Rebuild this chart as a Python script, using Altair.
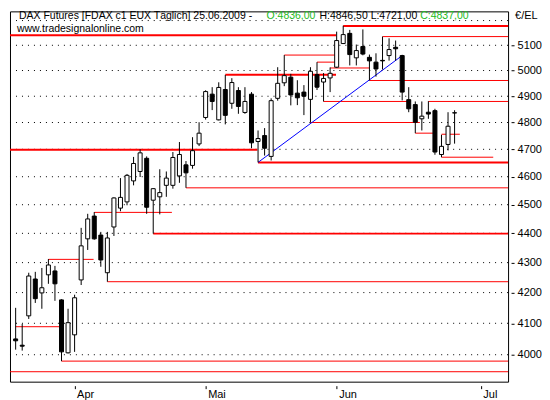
import altair as alt
import pandas as pd

# ---- daily candles (trading-day index 1..68, bar 68 = 25.06.2009) ----
bar_open = [4050, 4030, 4124, 4245, 4199, 4259, 4272, 4176, 4006, 4063,
            4242, 4381, 4460, 4394, 4266, 4422, 4488, 4510, 4585, 4619,
            4667, 4516, 4528, 4569, 4569, 4603, 4643, 4641, 4720, 4819,
            4908, 4810, 4926, 4873, 4922, 4838, 4908, 4729, 4751, 4674,
            4892, 4952, 4974, 4912, 4916, 4888, 4984, 4955, 4971, 5013,
            5107, 5148, 5050, 5095, 5052, 5033, 5040, 5059, 5092, 5059,
            4887, 4868, 4814, 4839, 4845, 4681, 4718, 4836]
bar_high = [4150, 4098, 4266, 4269, 4282, 4312, 4289, 4178, 4147, 4193,
            4419, 4468, 4474, 4405, 4405, 4526, 4595, 4610, 4672, 4700,
            4674, 4558, 4627, 4619, 4690, 4727, 4657, 4745, 4801, 4923,
            4935, 4954, 4983, 4970, 4935, 4935, 4916, 4770, 4779, 4892,
            5013, 5061, 4987, 4962, 4943, 5013, 5033, 4990, 5012, 5155,
            5179, 5162, 5103, 5164, 5063, 5068, 5135, 5128, 5119, 5062,
            4935, 4880, 4880, 4881, 4852, 4754, 4839, 4846.5]
bar_low = [4016, 4013, 4114, 4166, 4147, 4229, 4173, 3980, 4004, 4009,
           4225, 4343, 4378, 4286, 4236, 4391, 4477, 4498, 4569, 4599,
           4468, 4399, 4466, 4528, 4557, 4578, 4560, 4629, 4712, 4811,
           4847, 4808, 4793, 4852, 4833, 4833, 4704, 4652, 4677, 4659,
           4883, 4939, 4865, 4866, 4828, 4800, 4924, 4880, 4916, 5010,
           5105, 5020, 5020, 5060, 4961, 4976, 5004, 5039, 5039, 4884,
           4839, 4760, 4770, 4814, 4680, 4671, 4696, 4721]
bar_close = [4044, 4027, 4255, 4180, 4216, 4292, 4229, 4009, 4102, 4183,
             4357, 4450, 4381, 4309, 4384, 4524, 4526, 4605, 4648, 4687,
             4491, 4557, 4543, 4595, 4670, 4681, 4614, 4695, 4760, 4918,
             4880, 4934, 4827, 4953, 4861, 4880, 4724, 4740, 4704, 4883,
             4950, 4980, 4905, 4894, 4900, 4997, 4935, 4969, 4989, 5119,
             5143, 5063, 5079, 5065, 5038, 5006, 5038, 5083, 5086, 4916,
             4852, 4801, 4824, 4832, 4690, 4711, 4786, 4837]

# ---- horizontal support / resistance lines (start bar, end bar, level, width) ----
line_start = [0, 51, 33, 0, 38, 22,
              57, 42, 47, 49, 55, 48, 46, 62, 66, 64, 66, 27, 13, 6, 15, 1, 8, 0]
line_end = [49.9, 80, 49.9, 37.9, 80, 80,
            80, 49.7, 49.9, 55, 80, 61.25, 62.7, 64.95, 68.8, 80, 73.9, 80, 24.85, 12.9, 80, 7.9, 80, 80]
line_level = [5140, 5178, 4983, 4698, 4652, 4399,
              5135, 5061, 5033, 5010, 4961, 4880, 4800, 4760, 4756, 4880, 4671, 4560, 4473, 4311, 4236, 4089, 3980, 3947]
line_width = [2, 2, 2, 2, 2, 2,
              1, 1, 1, 1, 1, 1, 1, 1, 1, 1, 1, 1, 1, 1, 1, 1, 1, 1]

# ---- blue trend line ----
trend_bars = [38, 60]
trend_levels = [4652, 5059]

grid_levels = [4000, 4100, 4200, 4300, 4400, 4500, 4600, 4700, 4800, 4900, 5000, 5100, 5200]
y_tick_values = [4000, 4100, 4200, 4300, 4400, 4500, 4600, 4700, 4800, 4900, 5000, 5100]
month_ticks = [10, 30, 50, 72]
month_labels = ["Apr", "Mai", "Jun", "Jul"]

FONT = "Liberation Sans"

candles = pd.DataFrame({
    "i": list(range(1, len(bar_open) + 1)),
    "open": bar_open, "high": bar_high, "low": bar_low, "close": bar_close,
})
candles["dir"] = ["up" if c >= o else "down" for o, c in zip(bar_open, bar_close)]

lines_df = pd.DataFrame({"start": line_start, "end": line_end,
                         "level": line_level, "w": line_width})
trend_df = pd.DataFrame({"x0": [trend_bars[0]], "x1": [trend_bars[1]],
                         "y0": [trend_levels[0]], "y1": [trend_levels[1]]})
grid_df = pd.DataFrame({"level": grid_levels})

label_expr = "".join(f"datum.value == {t} ? '{l}' : " for t, l in zip(month_ticks, month_labels)) + "''"

x_scale = alt.Scale(domain=[0.9, 75.4], nice=False, zero=False)
y_scale = alt.Scale(type="log", domain=[3916.3, 5237.7], nice=False, zero=False)

x_axis = alt.Axis(values=month_ticks, labelExpr=label_expr, title=None, grid=False,
                  domain=False, tickSize=3, offset=4, labelAlign="left",
                  labelBaseline="top", labelPadding=0, labelOffset=2,
                  labelFont=FONT, labelFontSize=11, labelColor="#000000",
                  tickColor="#000000")
y_axis = alt.Axis(orient="right", values=y_tick_values, format="d", title=None,
                  grid=False, domain=False, tickSize=3, offset=3, labelPadding=3,
                  labelFont=FONT, labelFontSize=11, labelColor="#000000",
                  tickColor="#000000")


def X(field):
    return alt.X(f"{field}:Q", scale=x_scale, axis=x_axis)


def Y(field):
    return alt.Y(f"{field}:Q", scale=y_scale, axis=y_axis)


grid = alt.Chart(grid_df).mark_rule(color="#000000", strokeWidth=1,
                                    strokeDash=[1, 5]).encode(y=Y("level"))

lines = alt.Chart(lines_df).mark_rule(color="#ff0000", clip=True).encode(
    x=X("start"), x2="end", y=Y("level"),
    strokeWidth=alt.StrokeWidth("w:Q", scale=None, legend=None))

trend = alt.Chart(trend_df).mark_rule(color="#0000ff", strokeWidth=1, clip=True).encode(
    x=X("x0"), x2="x1", y=Y("y0"), y2="y1")

wicks = alt.Chart(candles).mark_rule(color="#000000", strokeWidth=1, clip=True).encode(
    x=X("i"), y=Y("low"), y2="high")

bodies = alt.Chart(candles).mark_bar(size=4, stroke="#000000", strokeWidth=1, clip=True).encode(
    x=X("i"), y=Y("open"), y2="close",
    fill=alt.Fill("dir:N", scale=alt.Scale(domain=["up", "down"], range=["#ffffff", "#000000"]),
                  legend=None))

last = len(bar_open) - 1


def fmt(v):
    return f"{v:.2f}".replace(".", ",")


header_parts = [
    ("DAX Futures [FDAX c1 EUX  Täglich] 25.06.2009 - ", "#000000", 9),
    (f"O:{fmt(bar_open[last])}", "#22bb22", 257),
    (f"H:{fmt(bar_high[last])} L:{fmt(bar_low[last])}", "#000000", 310),
    (f"C:{fmt(bar_close[last])}", "#22bb22", 411),
]
texts = []
for txt, col, xp in header_parts:
    texts.append(alt.Chart(pd.DataFrame({"t": [txt]})).mark_text(
        align="left", baseline="middle", font=FONT, fontSize=10.5, color=col
    ).encode(x=alt.value(xp), y=alt.value(4.5), text="t:N"))
texts.append(alt.Chart(pd.DataFrame({"t": ["www.tradesignalonline.com"]})).mark_text(
    align="left", baseline="middle", font=FONT, fontSize=10.5, color="#000000"
).encode(x=alt.value(7), y=alt.value(17.5), text="t:N"))
texts.append(alt.Chart(pd.DataFrame({"t": ["€/EL"]})).mark_text(
    align="left", baseline="middle", font=FONT, fontSize=11, color="#000000"
).encode(x=alt.value(506), y=alt.value(4.5), text="t:N"))

chart = alt.layer(grid, lines, trend, wicks, bodies, *texts).properties(
    width=499, height=371,
    padding={"left": 1, "top": 1, "right": 0, "bottom": 0},
    background="white",
).configure_view(stroke="#000000", strokeWidth=1)

chart.save("out.html", embed_options={"renderer": "svg", "actions": False})
